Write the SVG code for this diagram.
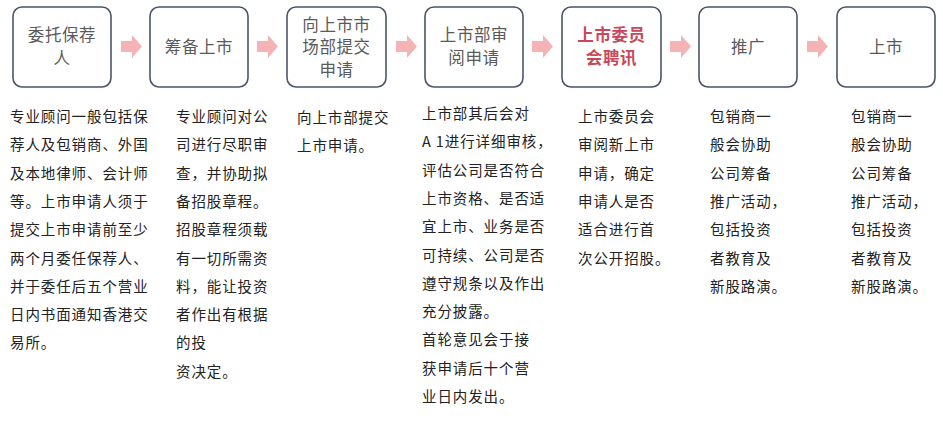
<svg xmlns="http://www.w3.org/2000/svg" xmlns:xlink="http://www.w3.org/1999/xlink" width="943" height="425" viewBox="0 0 943 425">
<style>
.box{fill:#fff;stroke:#4b5466;stroke-width:1.6}
.bt{font-family:"Noto Sans CJK SC","Noto Sans",sans-serif;font-size:16.5px;fill:#5a5a5a;text-anchor:middle;letter-spacing:0.6px}
.red{fill:#c8475b;font-weight:bold}
.arr{fill:#f5b3b5}
.body{font-family:"Noto Sans CJK SC","Noto Sans",sans-serif;font-size:14.5px;fill:#222;letter-spacing:0.9px}
</style>
<defs>
<path id="ar" class="arr" d="M0,41 H11 V35 L21,46.5 L11,58 V52 H0 Z"/>
</defs>
<rect width="943" height="425" fill="#fff"/>
<g id="n1"><rect class="box" x="13" y="7" width="98" height="80" rx="9"/><text class="bt" x="62" y="41">委托保荐<tspan x="62" dy="22.5">人</tspan></text></g>
<g id="n2"><rect class="box" x="150" y="7" width="98" height="80" rx="9"/><text class="bt" x="199" y="53">筹备上市</text></g>
<g id="n3"><rect class="box" x="287" y="7" width="99" height="80" rx="9"/><text class="bt" x="336.5" y="30.5">向上市市<tspan x="336.5" dy="22.5">场部提交</tspan><tspan x="336.5" dy="22.5">申请</tspan></text></g>
<g id="n4"><rect class="box" x="425" y="7" width="98" height="80" rx="9"/><text class="bt" x="474" y="41">上市部审<tspan x="474" dy="22.5">阅申请</tspan></text></g>
<g id="n5"><rect class="box" x="562" y="7" width="99" height="80" rx="9"/><text class="bt red" x="611.5" y="41">上市委员<tspan x="611.5" dy="22.5">会聘讯</tspan></text></g>
<g id="n6"><rect class="box" x="699" y="7" width="98" height="80" rx="9"/><text class="bt" x="748" y="53">推广</text></g>
<g id="n7"><rect class="box" x="837" y="7" width="98" height="80" rx="9"/><text class="bt" x="886" y="53">上市</text></g>
<g id="connectors">
<use xlink:href="#ar" x="121"/>
<use xlink:href="#ar" x="257"/>
<use xlink:href="#ar" x="396"/>
<use xlink:href="#ar" x="532"/>
<use xlink:href="#ar" x="670"/>
<use xlink:href="#ar" x="807"/>
</g>
<g id="d1" class="body">
<text x="10" y="122">专业顾问一般包括保</text>
<text x="10" y="150.3">荐人及包销商、外国</text>
<text x="10" y="178.6">及本地律师、会计师</text>
<text x="10" y="206.9">等。上市申请人须于</text>
<text x="10" y="235.2">提交上市申请前至少</text>
<text x="10" y="263.5">两个月委任保荐人、</text>
<text x="10" y="291.8">并于委任后五个营业</text>
<text x="10" y="320.1">日内书面通知香港交</text>
<text x="10" y="348.4">易所。</text>
</g>
<g id="d2" class="body">
<text x="176" y="122">专业顾问对公</text>
<text x="176" y="150.3">司进行尽职审</text>
<text x="176" y="178.6">查，并协助拟</text>
<text x="176" y="206.9">备招股章程。</text>
<text x="176" y="235.2">招股章程须载</text>
<text x="176" y="263.5">有一切所需资</text>
<text x="176" y="291.8">料，能让投资</text>
<text x="176" y="320.1">者作出有根据</text>
<text x="176" y="348.4">的投</text>
<text x="176" y="376.7">资决定。</text>
</g>
<g id="d3" class="body">
<text x="297" y="123">向上市部提交</text>
<text x="297" y="151.3">上市申请。</text>
</g>
<g id="d4" class="body">
<text x="422" y="119">上市部其后会对</text>
<text x="422" y="147.3">A 1进行详细审核，</text>
<text x="422" y="175.6">评估公司是否符合</text>
<text x="422" y="203.9">上市资格、是否适</text>
<text x="422" y="232.2">宜上市、业务是否</text>
<text x="422" y="260.5">可持续、公司是否</text>
<text x="422" y="288.8">遵守规条以及作出</text>
<text x="422" y="317.1">充分披露。</text>
<text x="422" y="345.4">首轮意见会于接</text>
<text x="422" y="373.7">获申请后十个营</text>
<text x="422" y="402">业日内发出。</text>
</g>
<g id="d5" class="body">
<text x="578" y="122">上市委员会</text>
<text x="578" y="150.3">审阅新上市</text>
<text x="578" y="178.6">申请，确定</text>
<text x="578" y="206.9">申请人是否</text>
<text x="578" y="235.2">适合进行首</text>
<text x="578" y="263.5">次公开招股。</text>
</g>
<g id="d6" class="body">
<text x="710" y="122">包销商一</text>
<text x="710" y="150.3">般会协助</text>
<text x="710" y="178.6">公司筹备</text>
<text x="710" y="206.9">推广活动，</text>
<text x="710" y="235.2">包括投资</text>
<text x="710" y="263.5">者教育及</text>
<text x="710" y="291.8">新股路演。</text>
</g>
<g id="d7" class="body">
<text x="851" y="122">包销商一</text>
<text x="851" y="150.3">般会协助</text>
<text x="851" y="178.6">公司筹备</text>
<text x="851" y="206.9">推广活动，</text>
<text x="851" y="235.2">包括投资</text>
<text x="851" y="263.5">者教育及</text>
<text x="851" y="291.8">新股路演。</text>
</g>
</svg>
